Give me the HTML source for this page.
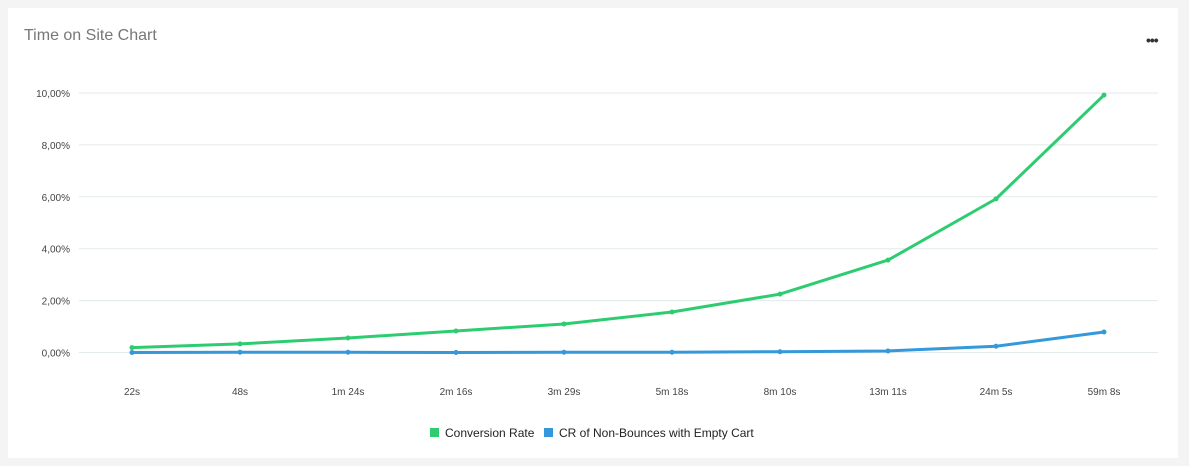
<!DOCTYPE html>
<html><head><meta charset="utf-8"><style>
body{margin:0;background:#f4f4f4;font-family:"Liberation Sans",sans-serif;}
#card{position:absolute;left:8px;top:8px;width:1170px;height:450px;background:#fff;}
#title{position:absolute;left:16px;top:19px;font-size:16px;color:#777;}
#menu{position:absolute;left:1138px;top:24px;font-size:14px;color:#333;font-weight:bold;letter-spacing:-1px;}
</style></head><body>
<div id="card">
<div id="title">Time on Site Chart</div>
<div id="menu">•••</div>
</div>
<svg id="chart" width="1189" height="466" style="position:absolute;left:0;top:0"></svg>
<script>
const categories=["22s","48s","1m 24s","2m 16s","3m 29s","5m 18s","8m 10s","13m 11s","24m 5s","59m 8s"];
const conversionRate=[0.19,0.33,0.56,0.83,1.1,1.56,2.25,3.56,5.92,9.92];
const crNonBounces=[0.0,0.01,0.01,0.0,0.01,0.01,0.03,0.06,0.24,0.79];
const yTicks=[0,2,4,6,8,10];
const yTickLabels=["0,00%","2,00%","4,00%","6,00%","8,00%","10,00%"];
const svg=document.getElementById('chart');const NS="http://www.w3.org/2000/svg";
const x=i=>132+i*108;const y=v=>352.5-v*25.95;
function mk(t,a){const e=document.createElementNS(NS,t);for(const k in a)e.setAttribute(k,a[k]);svg.appendChild(e);return e;}
yTicks.forEach((v,i)=>{
const g=mk('line',{x1:79,x2:1158,y1:y(v),y2:y(v),stroke:'#e3eaec','stroke-width':1});


const t=mk('text',{x:70,y:y(v)+4,'text-anchor':'end','font-size':10,fill:'#444'});t.textContent=yTickLabels[i];


});
categories.forEach((c,i)=>{
const t=mk('text',{x:x(i),y:395,'text-anchor':'middle','font-size':10,fill:'#444'});t.textContent=c;


});
function series(d,col,name){
const p=mk('polyline',{points:d.map((v,i)=>x(i)+','+y(v)).join(' '),fill:'none',stroke:col,'stroke-width':3,'stroke-linejoin':'round'});


d.forEach((v,i)=>{const c=mk('circle',{cx:x(i),cy:y(v),r:2.5,fill:col});

});
}
series(conversionRate,'#2ecc71','conversion-rate');
series(crNonBounces,'#3498db','cr-non-bounces');
function leg(x0,col,txt,name){
const r=mk('rect',{x:x0,y:428,width:9,height:9,fill:col});


const t=mk('text',{x:x0+15,y:437,'font-size':12,fill:'#222'});t.textContent=txt;


}
leg(430,'#2ecc71','Conversion Rate','conversion-rate');
leg(544,'#3498db','CR of Non-Bounces with Empty Cart','cr-non-bounces');
</script>
</body></html>
